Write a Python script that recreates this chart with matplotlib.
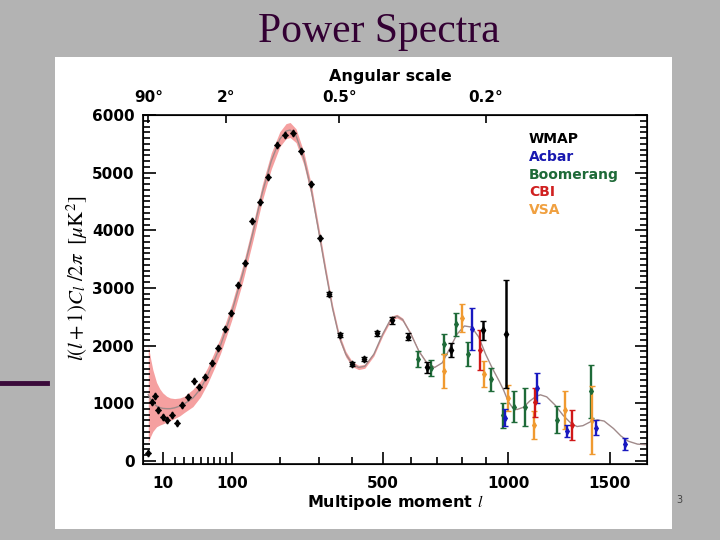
import numpy as np
import matplotlib
matplotlib.use('Agg')
import matplotlib.pyplot as plt
from matplotlib.patches import Rectangle
from matplotlib.lines import Line2D

plt.rcParams['mathtext.fontset'] = 'stix'

# best-fit model curve (multipole l, l(l+1)Cl/2pi in uK^2)
model_l = [2, 3, 4, 6, 8, 10, 13, 16, 20, 25, 30, 40, 50, 60, 70, 80, 90, 100, 120, 140,
           160, 180, 200, 215, 225, 240, 260, 280, 300, 320, 340, 360, 380, 400, 420, 440, 470, 500, 530, 550,
           570, 600, 630, 660, 690, 720, 750, 780, 810, 840, 870, 900, 930, 960, 980, 1000, 1020, 1040, 1070, 1100,
           1130, 1150, 1180, 1220, 1260, 1300, 1330, 1360, 1400, 1435, 1470, 1520, 1560, 1600, 1650, 1700]
model_D = [1150, 1060, 1010, 950, 925, 910, 905, 905, 920, 950, 990, 1090, 1250, 1480, 1740, 2000, 2300, 2600, 3250, 3950,
           4650, 5200, 5580, 5720, 5740, 5640, 5250, 4700, 4000, 3300, 2650, 2150, 1850, 1680, 1620, 1640, 1850, 2200, 2480, 2510,
           2450, 2200, 1900, 1700, 1620, 1700, 1950, 2200, 2340, 2320, 2150, 1850, 1600, 1380, 1220, 1030, 920, 890, 930, 1040,
           1120, 1145, 1110, 970, 790, 650, 595, 610, 680, 711, 690, 560, 430, 340, 290, 280]

# cosmic variance band
band_l = model_l[:45]
band_hi = [2000, 1760, 1580, 1360, 1250, 1180, 1120, 1090, 1080, 1090, 1120, 1240, 1390, 1620, 1880, 2140, 2440, 2740, 3390, 4090,
           4790, 5340, 5710, 5850, 5870, 5760, 5360, 4800, 4090, 3380, 2715, 2205, 1900, 1722, 1657, 1674, 1882, 2232, 2512, 2542,
           2477, 2222, 1917, 1712, 1627]
band_lo = [320, 430, 510, 590, 620, 640, 670, 700, 735, 780, 840, 940, 1110, 1340, 1600, 1860, 2160, 2460, 3110, 3810,
           4510, 5060, 5450, 5590, 5610, 5520, 5140, 4600, 3910, 3220, 2585, 2095, 1800, 1638, 1583, 1606, 1818, 2168, 2448, 2478,
           2423, 2178, 1883, 1688, 1613]

wmap_l = [2, 3.4, 5.1, 6.9, 10, 13, 17.6, 22.5, 27.7, 34.5, 41.1, 47.9, 56.4, 66.7, 75.6, 87.7, 98.8, 111, 125, 139,
          155, 173, 193, 212, 231, 254, 279, 304, 331, 363, 399, 439, 482, 533, 589, 660, 755, 889, 990]
wmap_D = [144, 1024, 1128, 885, 752, 712, 798, 654, 972, 1099, 1388, 1279, 1446, 1696, 1956, 2286, 2563, 3043, 3431, 4165,
          4483, 4917, 5472, 5646, 5680, 5368, 4807, 3865, 2893, 2187, 1678, 1765, 2216, 2435, 2157, 1620, 1926, 2262, 2199]
wmap_err = [0, 0, 0, 0, 0, 0, 0, 0, 0, 0, 0, 0, 0, 0, 0, 0, 0, 0, 0, 0,
            0, 0, 0, 0, 0, 0, 0, 0, 30, 30, 35, 40, 45, 55, 65, 90, 120, 170, 940]

acbar_l = [842, 987, 1135, 1280, 1428, 1584]
acbar_D = [2286, 751, 1262, 521, 578, 290]
acbar_err = [360, 145, 260, 100, 130, 110]

boom_l = [626, 677, 728, 775, 824, 925, 976, 1027, 1078, 1228, 1402]
boom_D = [1765, 1609, 2025, 2372, 1857, 1418, 793, 942, 942, 712, 1203]
boom_err = [135, 145, 180, 200, 210, 200, 215, 275, 330, 235, 460]

cbi_l = [876, 1125, 1305]
cbi_D = [1926, 1012, 625]
cbi_err = [350, 260, 260]

vsa_l = [728, 798, 895, 997, 1118, 1272, 1409]
vsa_D = [1560, 2477, 1510, 1088, 625, 885, 712]
vsa_err = [300, 250, 230, 220, 245, 330, 590]

angles = [90, 2, 0.5, 0.2]
angle_labels = ['90°', '2°', '0.5°', '0.2°']


def fwd(x):
    x = np.asarray(x, float)
    return np.sign(x) * np.abs(x) ** 0.6


def inv(y):
    y = np.asarray(y, float)
    return np.sign(y) * np.abs(y) ** (1 / 0.6)


fig = plt.figure(figsize=(7.2, 5.4), dpi=100)
fig.patch.set_facecolor('#b3b3b3')
fig.patches.append(Rectangle((55 / 720, 1 - 529 / 540), 617 / 720, 472 / 540,
                             transform=fig.transFigure, facecolor='white', edgecolor='none', zorder=-5))
fig.add_artist(Line2D([0, 47 / 720], [1 - 383 / 540] * 2, color='#3a0a3a', lw=3.5))
fig.text(379 / 720, 1 - 32 / 540, 'Power Spectra', ha='center', va='center',
         family='Liberation Serif', fontsize=30, color='#330033')
fig.text(676 / 720, 1 - 500 / 540, '3', fontsize=7, color='#444444', va='center')

ax = fig.add_axes([143 / 720, 1 - 464 / 540, 504 / 720, 349 / 540])
ax.set_facecolor('none')
ax.set_xscale('function', functions=(fwd, inv))
ax.set_xlim(0.44, 1703)
ax.set_ylim(-55, 6000)

ax.fill_between(band_l, band_lo, band_hi, color='#f5a0a0', lw=0, zorder=1)
ax.plot(model_l, model_D, color='#a08a8a', lw=1.0, zorder=2)

ax.errorbar(wmap_l, wmap_D, yerr=wmap_err, fmt='d', color='black', ms=3.5,
            elinewidth=1.8, capsize=2, zorder=6)
ax.errorbar(boom_l, boom_D, yerr=boom_err, fmt='d', color='#1e6a38', ms=3,
            elinewidth=1.7, capsize=2.5, zorder=4)
ax.errorbar(vsa_l, vsa_D, yerr=vsa_err, fmt='d', color='#f09a30', ms=3,
            elinewidth=1.7, capsize=2.5, zorder=4)
ax.errorbar(acbar_l, acbar_D, yerr=acbar_err, fmt='d', color='#1818c0', ms=3,
            elinewidth=1.7, capsize=2.5, zorder=5)
ax.errorbar(cbi_l, cbi_D, yerr=cbi_err, fmt='d', color='#d01818', ms=3,
            elinewidth=1.7, capsize=2.5, zorder=5)

ax.set_xticks([10, 100, 500, 1000, 1500])
ax.set_xticklabels(['10', '100', '500', '1000', '1500'], fontweight='bold')
ax.set_xticks([20, 30, 40, 50, 60, 70, 80, 90, 200, 300, 400, 600, 700, 800, 900], minor=True)
ax.set_yticks(range(0, 6001, 1000))
ax.set_yticklabels([str(v) for v in range(0, 6001, 1000)], fontweight='bold')
ax.set_yticks(range(0, 6001, 100), minor=True)
ax.tick_params(which='both', direction='in', top=False, right=True, labelsize=11, width=1.2)
ax.tick_params(which='major', length=9)
ax.tick_params(which='minor', length=5)
ax.tick_params(axis='x', pad=9)
ax.tick_params(axis='y', pad=6)
for s in ax.spines.values():
    s.set_linewidth(1.2)

ax2 = ax.twiny()
ax2.set_xscale('function', functions=(fwd, inv))
ax2.set_xlim(ax.get_xlim())
ax2.set_xticks([180 / a for a in angles])
ax2.set_xticklabels(angle_labels, fontweight='bold')
ax2.xaxis.set_minor_locator(matplotlib.ticker.NullLocator())
ax2.tick_params(direction='in', length=6, width=1.2, labelsize=11, pad=7)

fig.text(390 / 720, 1 - 76 / 540, 'Angular scale', ha='center', va='center',
         fontsize=11.5, fontweight='bold')
fig.text(395 / 720, 1 - 503 / 540, 'Multipole moment $\\mathit{l}$', ha='center', va='center',
         fontsize=11.5, fontweight='bold')
fig.text(77 / 720, 1 - 278 / 540, r'$l(l+1)C_l\ /2\pi\ \ [\mu\mathrm{K}^2]$', rotation=90,
         ha='center', va='center', fontsize=15)

legend_names = ['WMAP', 'Acbar', 'Boomerang', 'CBI', 'VSA']
legend_colors = ['black', '#1818b0', '#1e6a38', '#d02020', '#f0a040']
for i, (name, c) in enumerate(zip(legend_names, legend_colors)):
    fig.text(529 / 720, 1 - (139 + 17.8 * i) / 540, name, color=c, fontsize=10,
             fontweight='bold', va='center')

fig.savefig('out.png', dpi=100, facecolor=fig.get_facecolor())
